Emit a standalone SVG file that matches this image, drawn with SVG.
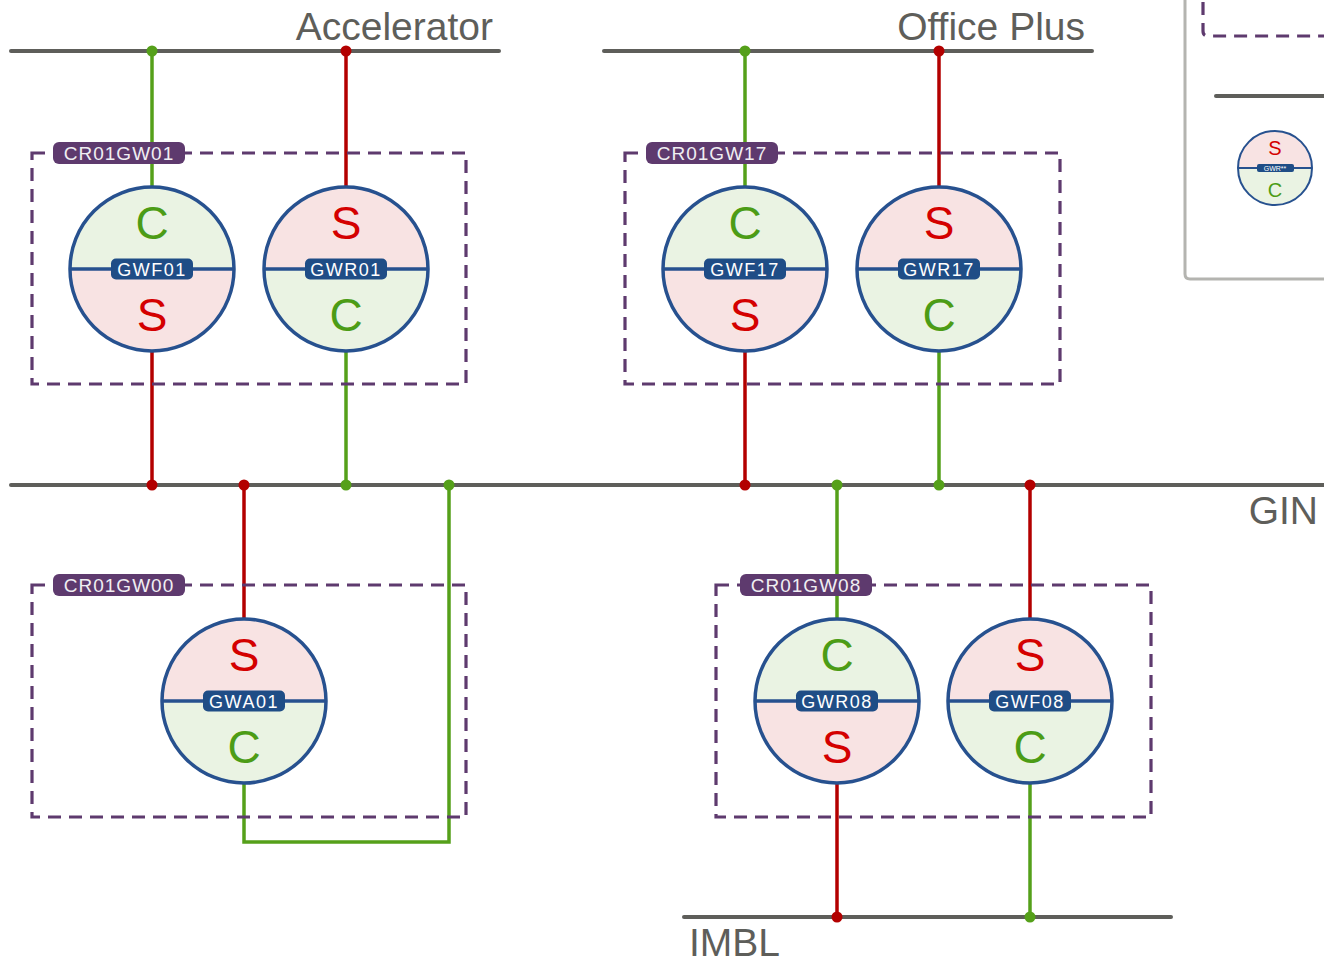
<svg xmlns="http://www.w3.org/2000/svg" width="1324" height="962" viewBox="0 0 1324 962">
<style>
.bus{stroke:#5e5e5a;stroke-width:4;stroke-linecap:round;fill:none}
.busl{font-family:"Liberation Sans",Arial,sans-serif;font-size:39px;fill:#5e5e5a}
.grp{fill:none;stroke:#5e3a6e;stroke-width:3.2;stroke-dasharray:13 8}
.grpl{fill:#5e3a6e}
.grpt{font-family:"Liberation Sans",Arial,sans-serif;font-size:19px;fill:#f0eef2;text-anchor:middle;letter-spacing:1px}
.red{stroke:#b30000;stroke-width:3.5;fill:none}
.grn{stroke:#55a01a;stroke-width:3.5;fill:none}
.dr{fill:#b30000}
.dg{fill:#55a01a}
.ring{fill:none;stroke:#27518f;stroke-width:3.5}
.pink{fill:#f8e3e3}
.lgrn{fill:#eaf3e3}
.mid{stroke:#27518f;stroke-width:3.5}
.nl{fill:#1f4d86}
.nlt{font-family:"Liberation Sans",Arial,sans-serif;font-size:18px;fill:#fff;text-anchor:middle;letter-spacing:1.5px}
.S{font-family:"Liberation Sans",Arial,sans-serif;font-size:46px;fill:#d40000;text-anchor:middle}
.C{font-family:"Liberation Sans",Arial,sans-serif;font-size:46px;fill:#4c9c16;text-anchor:middle}
</style>
<defs>
<g id="sc">
<path class="pink" d="M-82,0 A82,82 0 0 1 82,0 Z"/>
<path class="lgrn" d="M-82,0 A82,82 0 0 0 82,0 Z"/>
<line class="mid" x1="-82" y1="0" x2="82" y2="0"/>
<circle class="ring" r="82"/>
<text class="S" y="-30">S</text>
<text class="C" y="62">C</text>
</g>
<g id="cs">
<path class="lgrn" d="M-82,0 A82,82 0 0 1 82,0 Z"/>
<path class="pink" d="M-82,0 A82,82 0 0 0 82,0 Z"/>
<line class="mid" x1="-82" y1="0" x2="82" y2="0"/>
<circle class="ring" r="82"/>
<text class="C" y="-30">C</text>
<text class="S" y="62">S</text>
</g>
</defs>
<rect width="1324" height="962" fill="#fff"/>

<g id="legend">
<path d="M1185,0 V274 Q1185,279 1190,279 H1324" fill="none" stroke="#b4b4b0" stroke-width="3"/>
<path d="M1203,2 V31 Q1203,36 1208,36 H1324" class="grp"/>
<line class="bus" x1="1216" y1="96" x2="1324" y2="96"/>
<path d="M1238,168 A37,37 0 0 1 1312,168 Z" class="pink"/>
<path d="M1238,168 A37,37 0 0 0 1312,168 Z" class="lgrn"/>
<line x1="1238" y1="168" x2="1312" y2="168" stroke="#27518f" stroke-width="2"/>
<circle cx="1275" cy="168" r="37" fill="none" stroke="#27518f" stroke-width="2"/>
<rect x="1257" y="164" width="37" height="8" rx="2" class="nl"/>
<text x="1275" y="171" font-family="Liberation Sans,Arial,sans-serif" font-size="7" fill="#fff" text-anchor="middle">GWR**</text>
<text x="1275" y="155" font-family="Liberation Sans,Arial,sans-serif" font-size="20" fill="#d40000" text-anchor="middle">S</text>
<text x="1275" y="197" font-family="Liberation Sans,Arial,sans-serif" font-size="20" fill="#4c9c16" text-anchor="middle">C</text>
</g>

<g id="buses">
<line class="bus" x1="11" y1="51" x2="499" y2="51"/>
<text class="busl" x="493" y="40" text-anchor="end">Accelerator</text>
<line class="bus" x1="604" y1="51" x2="1092" y2="51"/>
<text class="busl" x="1085" y="40" text-anchor="end">Office Plus</text>
<line class="bus" x1="11" y1="485" x2="1324" y2="485"/>
<text class="busl" x="1318" y="524" text-anchor="end">GIN</text>
<line class="bus" x1="684" y1="917" x2="1171" y2="917"/>
<text class="busl" x="689" y="956">IMBL</text>
</g>

<g id="connectors">
<line class="grn" x1="152" y1="51" x2="152" y2="190"/>
<line class="red" x1="346" y1="51" x2="346" y2="190"/>
<line class="red" x1="152" y1="348" x2="152" y2="485"/>
<line class="grn" x1="346" y1="348" x2="346" y2="485"/>
<line class="red" x1="244" y1="485" x2="244" y2="622"/>
<polyline class="grn" points="244,780 244,842 449,842 449,485"/>
<line class="grn" x1="745" y1="51" x2="745" y2="190"/>
<line class="red" x1="939" y1="51" x2="939" y2="190"/>
<line class="red" x1="745" y1="348" x2="745" y2="485"/>
<line class="grn" x1="939" y1="348" x2="939" y2="485"/>
<line class="grn" x1="837" y1="485" x2="837" y2="622"/>
<line class="red" x1="1030" y1="485" x2="1030" y2="622"/>
<line class="red" x1="837" y1="780" x2="837" y2="917"/>
<line class="grn" x1="1030" y1="780" x2="1030" y2="917"/>
<circle class="dg" cx="152" cy="51" r="5.5"/>
<circle class="dr" cx="346" cy="51" r="5.5"/>
<circle class="dg" cx="745" cy="51" r="5.5"/>
<circle class="dr" cx="939" cy="51" r="5.5"/>
<circle class="dr" cx="152" cy="485" r="5.5"/>
<circle class="dr" cx="244" cy="485" r="5.5"/>
<circle class="dg" cx="346" cy="485" r="5.5"/>
<circle class="dg" cx="449" cy="485" r="5.5"/>
<circle class="dr" cx="745" cy="485" r="5.5"/>
<circle class="dg" cx="837" cy="485" r="5.5"/>
<circle class="dg" cx="939" cy="485" r="5.5"/>
<circle class="dr" cx="1030" cy="485" r="5.5"/>
<circle class="dr" cx="837" cy="917" r="5.5"/>
<circle class="dg" cx="1030" cy="917" r="5.5"/>
</g>

<g id="groups">
<g id="CR01GW01">
<rect class="grp" x="32" y="153" width="434" height="231"/>
<rect class="grpl" x="53" y="142" width="132" height="22" rx="6"/>
<text class="grpt" x="119" y="160">CR01GW01</text>
</g>
<g id="CR01GW17">
<rect class="grp" x="625" y="153" width="435" height="231"/>
<rect class="grpl" x="646" y="142" width="132" height="22" rx="6"/>
<text class="grpt" x="712" y="160">CR01GW17</text>
</g>
<g id="CR01GW00">
<rect class="grp" x="32" y="585" width="434" height="232"/>
<rect class="grpl" x="53" y="574" width="132" height="22" rx="6"/>
<text class="grpt" x="119" y="592">CR01GW00</text>
</g>
<g id="CR01GW08">
<rect class="grp" x="716" y="585" width="435" height="232"/>
<rect class="grpl" x="740" y="574" width="132" height="22" rx="6"/>
<text class="grpt" x="806" y="592">CR01GW08</text>
</g>
</g>

<g id="GWF01" transform="translate(152,269)">
<use href="#cs"/>
<rect class="nl" x="-41" y="-10.5" width="82" height="21" rx="5"/>
<text class="nlt" y="6.5">GWF01</text>
</g>
<g id="GWR01" transform="translate(346,269)">
<use href="#sc"/>
<rect class="nl" x="-41" y="-10.5" width="82" height="21" rx="5"/>
<text class="nlt" y="6.5">GWR01</text>
</g>
<g id="GWF17" transform="translate(745,269)">
<use href="#cs"/>
<rect class="nl" x="-41" y="-10.5" width="82" height="21" rx="5"/>
<text class="nlt" y="6.5">GWF17</text>
</g>
<g id="GWR17" transform="translate(939,269)">
<use href="#sc"/>
<rect class="nl" x="-41" y="-10.5" width="82" height="21" rx="5"/>
<text class="nlt" y="6.5">GWR17</text>
</g>
<g id="GWA01" transform="translate(244,701)">
<use href="#sc"/>
<rect class="nl" x="-41" y="-10.5" width="82" height="21" rx="5"/>
<text class="nlt" y="6.5">GWA01</text>
</g>
<g id="GWR08" transform="translate(837,701)">
<use href="#cs"/>
<rect class="nl" x="-41" y="-10.5" width="82" height="21" rx="5"/>
<text class="nlt" y="6.5">GWR08</text>
</g>
<g id="GWF08" transform="translate(1030,701)">
<use href="#sc"/>
<rect class="nl" x="-41" y="-10.5" width="82" height="21" rx="5"/>
<text class="nlt" y="6.5">GWF08</text>
</g>
</svg>
